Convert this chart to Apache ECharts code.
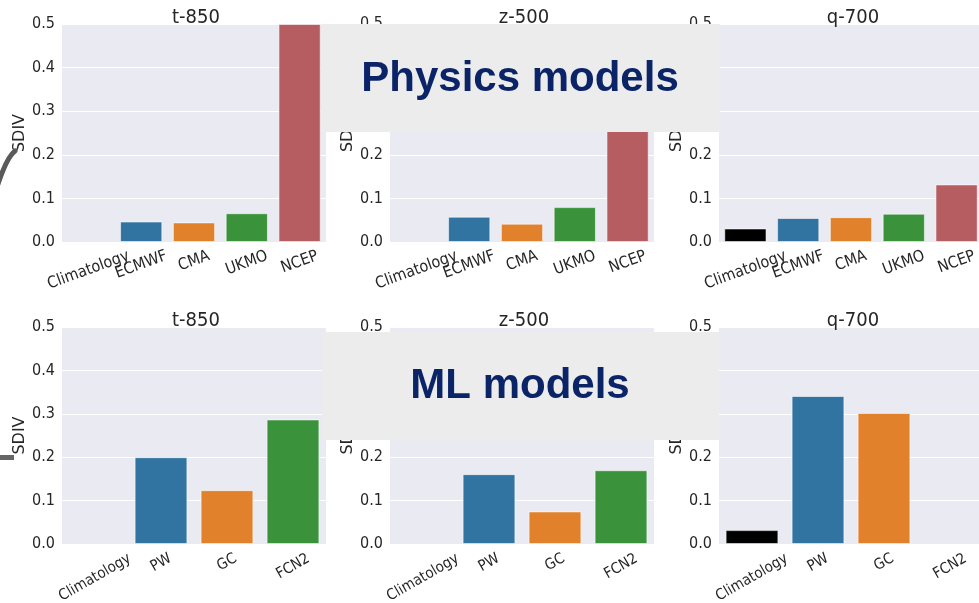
<!DOCTYPE html>
<html>
<head>
<meta charset="utf-8">
<script src="https://cdn.jsdelivr.net/npm/echarts@6/dist/echarts.min.js"></script>
<style>
  html, body { margin: 0; padding: 0; background: #fff; }
  #chart { width: 979px; height: 603px; }
</style>
</head>
<body>
<div id="chart"></div>
<script>
// categories
const physCats = ['Climatology', 'ECMWF', 'CMA', 'UKMO', 'NCEP'];
const mlCats = ['Climatology', 'PW', 'GC', 'FCN2'];
const panelTitles = ['t-850', 'z-500', 'q-700'];
const yTicks = [0, 0.1, 0.2, 0.3, 0.4, 0.5];

// SDIV values (null = no bar)
const physT850 = [null, 0.047, 0.045, 0.066, 0.5];
const physZ500 = [null, 0.058, 0.042, 0.080, 0.40];
const physQ700 = [0.031, 0.055, 0.057, 0.065, 0.132];
const mlT850 = [null, 0.200, 0.124, 0.287];
const mlZ500 = [null, 0.161, 0.075, 0.170];
const mlQ700 = [0.032, 0.341, 0.302, null];

const catColors = {
  Climatology: '#000000', ECMWF: '#3274a1', CMA: '#e1812c', UKMO: '#3a923a',
  NCEP: '#b55d60', PW: '#3274a1', GC: '#e1812c', FCN2: '#3a923a'
};

const FONT = '"DejaVu Sans Condensed", "DejaVu Sans", sans-serif';
const textColor = '#262626';

// rotated x labels centred under the tick (matplotlib style)
// align has to sit in each item's textStyle, the axisLabel one is ignored there
function labelItems(cats, rot, size) {
  const ctx = document.createElement('canvas').getContext('2d');
  ctx.font = size + 'px ' + FONT;
  const t = rot * Math.PI / 180;
  return cats.map(c => {
    const w = ctx.measureText(c).width;
    const v = (w * Math.sin(t) + size * Math.cos(t)) / 2;
    return {
      value: c,
      textStyle: {
        align: 'center', verticalAlign: 'top',
        padding: [Math.max(0, v * Math.cos(t) - size / 2), 2 * v * Math.sin(t), 0, 0]
      }
    };
  });
}

const lefts = [62, 390, 719];
const panelW = 264;
const rows = [
  { top: 24, height: 218, cats: physCats, vals: [physT850, physZ500, physQ700], rot: 20, pad: 6, fs: 16, titleTop: 3 },
  { top: 327, height: 217, cats: mlCats, vals: [mlT850, mlZ500, mlQ700], rot: 30, pad: 7, fs: 15, titleTop: 306 }
];

const grid = [], xAxis = [], yAxis = [], series = [], title = [];
rows.forEach((r, ri) => {
  lefts.forEach((l, ci) => {
    const idx = grid.length;
    grid.push({
      left: l, top: r.top, width: panelW, height: r.height, outerBoundsMode: 'none',
      backgroundColor: '#eaeaf2', show: true, borderWidth: 0
    });
    title.push({
      text: panelTitles[ci], left: l + panelW / 2 - 3, top: r.titleTop, textAlign: 'center',
      textStyle: { fontFamily: FONT, fontSize: 20, fontWeight: 'normal', color: textColor }
    });
    xAxis.push({
      type: 'category', gridIndex: idx, data: labelItems(r.cats, r.rot, r.fs),
      axisLine: { show: false }, axisTick: { show: false },
      axisLabel: {
        interval: 0, rotate: r.rot, margin: r.pad,
        fontFamily: FONT, fontSize: r.fs, color: textColor
      }
    });
    yAxis.push({
      type: 'value', gridIndex: idx, min: 0, max: 0.5, interval: 0.1,
      name: 'SDIV', nameLocation: 'middle', nameGap: 27,
      nameTextStyle: { fontFamily: '"DejaVu Sans", sans-serif', fontSize: 16, color: textColor },
      axisLine: { show: false }, axisTick: { show: false },
      axisLabel: { margin: 7, fontFamily: FONT, fontSize: 16, color: textColor, formatter: v => v.toFixed(1) },
      splitLine: { lineStyle: { color: '#ffffff', width: 1 } }
    });
    series.push({
      type: 'bar', xAxisIndex: idx, yAxisIndex: idx, barCategoryGap: '20%',
      data: r.vals[ci].map((v, k) => ({
        value: v,
        itemStyle: { color: catColors[r.cats[k]] }
      })),
      itemStyle: { borderColor: 'rgba(255,255,255,0.55)', borderWidth: 1 }
    });
  });
});

const boxStyle = { fill: '#ececec' };
const boxText = { fill: '#0b2468', font: 'bold 42px "Liberation Sans", Arial, sans-serif', align: 'center', verticalAlign: 'middle' };

const graphic = [
  { type: 'rect', z: 100, shape: { x: 321, y: 24, width: 399, height: 108 }, style: boxStyle },
  { type: 'text', z: 101, x: 520, y: 79, style: Object.assign({ text: 'Physics models' }, boxText) },
  { type: 'rect', z: 100, shape: { x: 322, y: 332, width: 397, height: 108 }, style: boxStyle },
  { type: 'text', z: 101, x: 520, y: 386, style: Object.assign({ text: 'ML models' }, boxText) },
  // cropped bracket pieces at the left edge
  { type: 'bezierCurve', z: 100, shape: { x1: 15, y1: 151, cpx1: 7, cpy1: 157, x2: -2, y2: 184 },
    style: { stroke: '#5a5a5a', lineWidth: 5, fill: null, lineCap: 'round' } },
  { type: 'rect', z: 100, shape: { x: 0, y: 455, width: 14, height: 5 }, style: { fill: '#666666' } }
];

const chart = echarts.init(document.getElementById('chart'), null, { renderer: 'canvas' });
chart.setOption({
  animation: false,
  backgroundColor: '#ffffff',
  title, grid, xAxis, yAxis, series, graphic
});
</script>
</body>
</html>
